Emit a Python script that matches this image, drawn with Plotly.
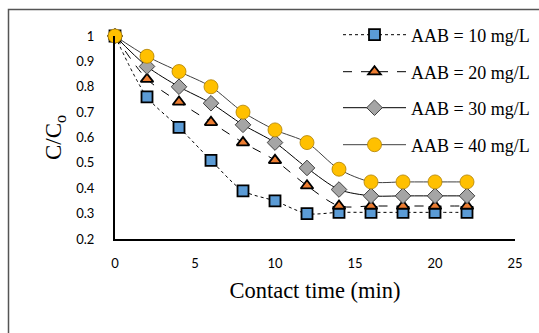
import plotly.graph_objects as go

time_min = [0, 2, 4, 6, 8, 10, 12, 14, 16, 18, 20, 22]
aab_10 = [1.0, 0.76, 0.64, 0.51, 0.39, 0.35, 0.30, 0.305, 0.305, 0.305, 0.305, 0.305]
aab_20 = [1.0, 0.83, 0.74, 0.66, 0.58, 0.51, 0.41, 0.33, 0.33, 0.33, 0.33, 0.33]
aab_30 = [1.0, 0.88, 0.80, 0.735, 0.65, 0.58, 0.48, 0.395, 0.37, 0.37, 0.37, 0.37]
aab_40 = [1.0, 0.92, 0.86, 0.80, 0.70, 0.63, 0.58, 0.475, 0.425, 0.425, 0.425, 0.425]
names = ["AAB = 10 mg/L", "AAB = 20 mg/L", "AAB = 30 mg/L", "AAB = 40 mg/L"]

styles = [
    dict(symbol="square", size=11, color="#5B9BD5", lc="#000000", lw=1.8, dash="dot", line_color="#000000"),
    dict(symbol="triangle-up", size=11, color="#ED7D31", lc="#000000", lw=1.8, dash="dash", line_color="#000000"),
    dict(symbol="diamond", size=12, color="#A5A5A5", lc="#404040", lw=1, dash="solid", line_color="#000000"),
    dict(symbol="circle", size=14, color="#FFC000", lc="#B08000", lw=0.8, dash="solid", line_color="#404040"),
]

# plot area in pixels: x 115..515, y 36..239
PX0, PX1, PY0, PY1 = 115, 515, 36, 239
legend_centers_px = [35, 72, 108, 145]
legend_ids = ["legend", "legend2", "legend3", "legend4"]

fig = go.Figure()
for i, (ys, nm, st) in enumerate(zip([aab_10, aab_20, aab_30, aab_40], names, styles)):
    fig.add_trace(go.Scatter(
        x=time_min, y=ys, name=nm, mode="lines+markers",
        legend=legend_ids[i],
        line=dict(color=st["line_color"], width=1, dash=st["dash"], shape="spline", smoothing=0.8),
        marker=dict(symbol=st["symbol"], size=st["size"], color=st["color"],
                    line=dict(color=st["lc"], width=st["lw"])),
        cliponaxis=False,
    ))

legend_x = (338 - PX0) / (PX1 - PX0)
legend_kw = {}
for lid, cy in zip(legend_ids, legend_centers_px):
    legend_kw[lid] = dict(x=legend_x, y=(PY1 - cy) / (PY1 - PY0), xanchor="left", yanchor="middle",
                          font=dict(family="Liberation Serif", size=18, color="#000000"),
                          bgcolor="rgba(0,0,0,0)", itemwidth=63)

fig.update_layout(
    width=539, height=333,
    margin=dict(l=PX0, r=539 - PX1, t=PY0, b=333 - PY1, autoexpand=False),
    paper_bgcolor="white", plot_bgcolor="white",
    showlegend=True,
    xaxis=dict(range=[0, 25], dtick=5, tick0=0, showgrid=False, zeroline=False,
               automargin=False,
               showline=True, linecolor="#000000", linewidth=2, ticks="",
               ticklabelstandoff=11,
               tickfont=dict(family="Lato", size=13, color="#000000"),
               title=dict(text="Contact time (min)", standoff=13,
                          font=dict(family="Liberation Serif", size=22.5, color="#000000"))),
    yaxis=dict(range=[0.2, 1.0], dtick=0.1, tick0=0.2, showgrid=False, zeroline=False,
               automargin=False,
               showline=True, linecolor="#000000", linewidth=2, ticks="",
               ticklabelstandoff=16,
               tickfont=dict(family="Lato", size=13, color="#000000"),
               title=dict(text="C/C<sub>o</sub>", standoff=8,
                          font=dict(family="Liberation Serif", size=23, color="#000000"))),
    **legend_kw,
)

bx0 = (8.5 - PX0) / (PX1 - PX0)
bx1 = (545 - PX0) / (PX1 - PX0)
by1 = (PY1 - 9.5) / (PY1 - PY0)
by0 = (PY1 - 345) / (PY1 - PY0)
fig.add_shape(type="rect", xref="paper", yref="paper", x0=bx0, x1=bx1, y0=by0, y1=by1,
              fillcolor="rgba(0,0,0,0)", line=dict(color="#555555", width=1.5), layer="above")

fig.write_html("out.html", config={"displayModeBar": False},
               post_script="document.body.style.margin='0';")
